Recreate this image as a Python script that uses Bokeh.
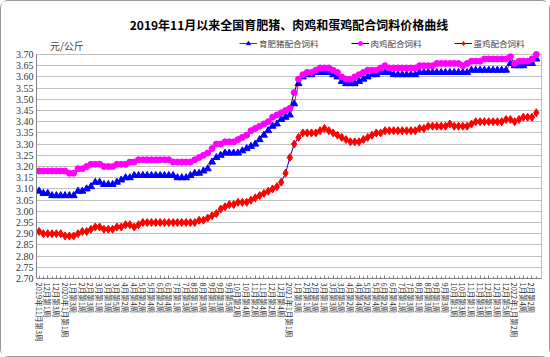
from bokeh.plotting import figure
from bokeh.models import FixedTicker, Legend, LegendItem, Label, Range1d, LinearAxis
from bokeh.embed import file_html
from bokeh.resources import INLINE

weeks = list(range(116))

pig = [3.09, 3.08, 3.08, 3.07, 3.07, 3.07, 3.07, 3.07, 3.07, 3.09, 3.09, 3.10, 3.11, 3.13, 3.13, 3.12, 3.12, 3.12, 3.13, 3.14,
       3.15, 3.15, 3.16, 3.16, 3.16, 3.16, 3.16, 3.16, 3.16, 3.16, 3.16, 3.16, 3.15, 3.15, 3.15, 3.16, 3.17, 3.17, 3.18, 3.19,
       3.22, 3.24, 3.25, 3.26, 3.26, 3.26, 3.26, 3.27, 3.28, 3.29, 3.30, 3.32, 3.34, 3.36, 3.38, 3.39, 3.41, 3.42,
       3.43, 3.48, 3.57, 3.60, 3.61, 3.61, 3.62, 3.62, 3.62, 3.62, 3.61, 3.60, 3.58, 3.57, 3.57, 3.57, 3.58, 3.59, 3.60, 3.61,
       3.61, 3.62, 3.62, 3.62, 3.61, 3.61, 3.61, 3.61, 3.61, 3.61, 3.62, 3.62, 3.62, 3.62, 3.62, 3.62, 3.62, 3.62, 3.62, 3.62,
       3.62, 3.62, 3.63, 3.63, 3.63, 3.63, 3.63, 3.63, 3.63, 3.63, 3.63, 3.66, 3.65, 3.65, 3.65, 3.66, 3.66, 3.68]

broiler = [3.18, 3.18, 3.18, 3.18, 3.18, 3.18, 3.18, 3.17, 3.17, 3.19, 3.19, 3.20, 3.21, 3.21, 3.21, 3.20, 3.20, 3.20, 3.21, 3.21,
           3.21, 3.22, 3.22, 3.23, 3.23, 3.23, 3.23, 3.23, 3.23, 3.23, 3.23, 3.22, 3.22, 3.22, 3.22, 3.22, 3.23, 3.24, 3.25, 3.26,
           3.28, 3.30, 3.30, 3.31, 3.31, 3.31, 3.32, 3.33, 3.34, 3.36, 3.37, 3.38, 3.39, 3.40, 3.42, 3.43, 3.44, 3.45,
           3.46, 3.53, 3.59, 3.61, 3.62, 3.62, 3.63, 3.64, 3.64, 3.64, 3.63, 3.62, 3.60, 3.59, 3.59, 3.60, 3.61, 3.62, 3.63, 3.63,
           3.63, 3.64, 3.65, 3.64, 3.64, 3.64, 3.64, 3.64, 3.64, 3.64, 3.65, 3.65, 3.65, 3.65, 3.66, 3.66, 3.66, 3.66, 3.66, 3.66,
           3.65, 3.66, 3.67, 3.67, 3.67, 3.68, 3.68, 3.68, 3.68, 3.68, 3.68, 3.69, 3.66, 3.67, 3.67, 3.67, 3.68, 3.70]

layer = [2.91, 2.90, 2.90, 2.90, 2.90, 2.90, 2.89, 2.89, 2.89, 2.90, 2.91, 2.91, 2.92, 2.93, 2.93, 2.92, 2.92, 2.92, 2.93, 2.93,
         2.94, 2.94, 2.93, 2.94, 2.95, 2.95, 2.95, 2.95, 2.95, 2.95, 2.95, 2.95, 2.95, 2.95, 2.95, 2.95, 2.95, 2.96, 2.96, 2.97,
         2.98, 2.99, 3.01, 3.02, 3.03, 3.03, 3.04, 3.04, 3.04, 3.05, 3.06, 3.07, 3.08, 3.09, 3.10, 3.11, 3.13, 3.17,
         3.24, 3.30, 3.33, 3.35, 3.35, 3.35, 3.35, 3.36, 3.37, 3.36, 3.35, 3.34, 3.33, 3.32, 3.31, 3.31, 3.31, 3.32, 3.33, 3.34,
         3.35, 3.35, 3.36, 3.36, 3.36, 3.36, 3.36, 3.36, 3.36, 3.36, 3.37, 3.37, 3.38, 3.38, 3.38, 3.38, 3.38, 3.39, 3.38, 3.38,
         3.38, 3.38, 3.39, 3.40, 3.40, 3.40, 3.40, 3.40, 3.40, 3.40, 3.41, 3.41, 3.40, 3.41, 3.42, 3.42, 3.42, 3.44]

tick_weeks = list(range(0, 116, 2))
tick_labels = ["2019年11月第3周", "12月第1周", "12月第3周", "2020年1月第1周", "1月第3周", "2月第1周", "2月第3周",
               "3月第1周", "3月第3周", "3月第5周", "4月第2周", "4月第4周", "5月第2周", "5月第4周", "6月第2周",
               "6月第4周", "7月第1周", "7月第3周", "8月第1周", "8月第3周", "9月第1周", "9月第3周", "9月第5周",
               "10月第2周", "10月第4周", "11月第2周", "11月第4周", "12月第2周", "12月第4周", "2021年1月第1周",
               "1月第3周", "2月第1周", "2月第3周", "3月第1周", "3月第3周", "3月第5周", "4月第2周", "4月第4周",
               "5月第2周", "5月第4周", "6月第2周", "6月第4周", "7月第1周", "7月第3周", "8月第1周", "8月第3周",
               "9月第1周", "9月第3周", "10月第1周", "10月第3周", "11月第1周", "11月第3周", "12月第1周", "12月第3周",
               "12月第5周", "2022年1月第2周", "1月第4周", "2月第2周"]

y_ticks = [2.70, 2.75, 2.80, 2.85, 2.90, 2.95, 3.00, 3.05, 3.10, 3.15, 3.20, 3.25, 3.30, 3.35, 3.40, 3.45, 3.50,
           3.55, 3.60, 3.65, 3.70]

series_names = ["育肥猪配合饲料", "肉鸡配合饲料", "蛋鸡配合饲料"]
title_text = "2019年11月以来全国育肥猪、肉鸡和蛋鸡配合饲料价格曲线"
unit_text = "元/公斤"

CJK = "Noto Sans CJK SC"
GRID = "#808080"

# frame spans 3.70 at the dotted top line; a strip above it carries the unit and legend
p = figure(width=550, height=357, x_range=Range1d(-0.6, 116.2), y_range=Range1d(2.70, 2.70 + 240 / 224),
           output_backend="svg", toolbar_location=None,
           min_border_left=35, min_border_right=10, min_border_top=37, min_border_bottom=80)
p.background_fill_color = "white"
p.border_fill_color = "white"
p.outline_line_color = None

p.title.text = title_text
p.title.align = "center"
p.title.text_font = CJK
p.title.text_font_size = "12px"
p.title.text_font_style = "bold"
p.title.text_color = "black"
p.title.standoff = 12

l1 = p.line(weeks, pig, line_color="red", line_width=1)
s1 = p.scatter(weeks, pig, marker="triangle", size=7, fill_color="blue", line_color="blue")
l2 = p.line(weeks, broiler, line_color="black", line_width=1)
s2 = p.scatter(weeks, broiler, marker="circle", size=6, fill_color="#ff00ff", line_color="#ff00ff")
l3 = p.line(weeks, layer, line_color="blue", line_width=1)
s3 = p.scatter(weeks, layer, marker="diamond", size=8, fill_color="red", line_color="red")

legend = Legend(items=[LegendItem(label=series_names[0], renderers=[l1, s1]),
                       LegendItem(label=series_names[1], renderers=[l2, s2]),
                       LegendItem(label=series_names[2], renderers=[l3, s3])],
                orientation="horizontal", location=(203, 229))
legend.label_text_font = CJK
legend.label_text_font_size = "8.5px"
legend.label_text_color = "#444444"
legend.border_line_alpha = 0
legend.background_fill_alpha = 0
legend.glyph_width = 18
legend.glyph_height = 10
legend.spacing = 32
legend.padding = 0
legend.margin = 0
legend.label_standoff = 2
legend.label_height = 10
p.add_layout(legend)

p.xaxis.ticker = FixedTicker(ticks=tick_weeks, minor_ticks=weeks)
p.xaxis.major_label_overrides = {w: t for w, t in zip(tick_weeks, tick_labels)}
p.xaxis.major_label_orientation = "vertical"
p.xaxis.major_label_text_font = CJK
p.xaxis.major_label_text_font_size = "7.5px"
p.xaxis.major_label_text_color = "#333333"
p.xaxis.major_tick_in = 3
p.xaxis.major_tick_out = 0
p.xaxis.minor_tick_in = 2
p.xaxis.minor_tick_out = 0
p.xaxis.axis_line_color = GRID
p.xaxis.major_tick_line_color = GRID
p.xaxis.minor_tick_line_color = GRID
p.xaxis.major_label_standoff = 4

p.yaxis.ticker = FixedTicker(ticks=y_ticks, minor_ticks=[])
p.yaxis.bounds = (2.70, 3.70)
p.yaxis.major_label_overrides = {v: f"{v:.2f}" for v in y_ticks}
p.yaxis.major_label_text_font = "Liberation Serif"
p.yaxis.major_label_text_font_size = "10px"
p.yaxis.major_label_text_color = "#333333"
p.yaxis.major_tick_out = 0
p.yaxis.major_tick_in = 0
p.yaxis.axis_line_color = GRID
p.yaxis.major_label_standoff = 3

right_axis = LinearAxis(ticker=FixedTicker(ticks=[], minor_ticks=[]), bounds=(2.70, 3.70),
                        axis_line_color=GRID, axis_line_dash="1 1",
                        major_label_text_alpha=0, major_tick_line_color=None, minor_tick_line_color=None)
p.add_layout(right_axis, "right")

p.xgrid.visible = False
p.ygrid.ticker = FixedTicker(ticks=y_ticks)
p.ygrid.grid_line_color = GRID
p.ygrid.grid_line_dash = "1 1"

unit = Label(x=2.5, y=3.70, y_offset=2, text=unit_text, text_font=CJK, text_font_size="10px",
             text_color="#444444", text_baseline="bottom")
p.add_layout(unit)

p.styles = {"border": "1px solid #999999", "border-radius": "8px", "box-sizing": "border-box"}

open("out.html", "w").write(file_html(p, INLINE))
